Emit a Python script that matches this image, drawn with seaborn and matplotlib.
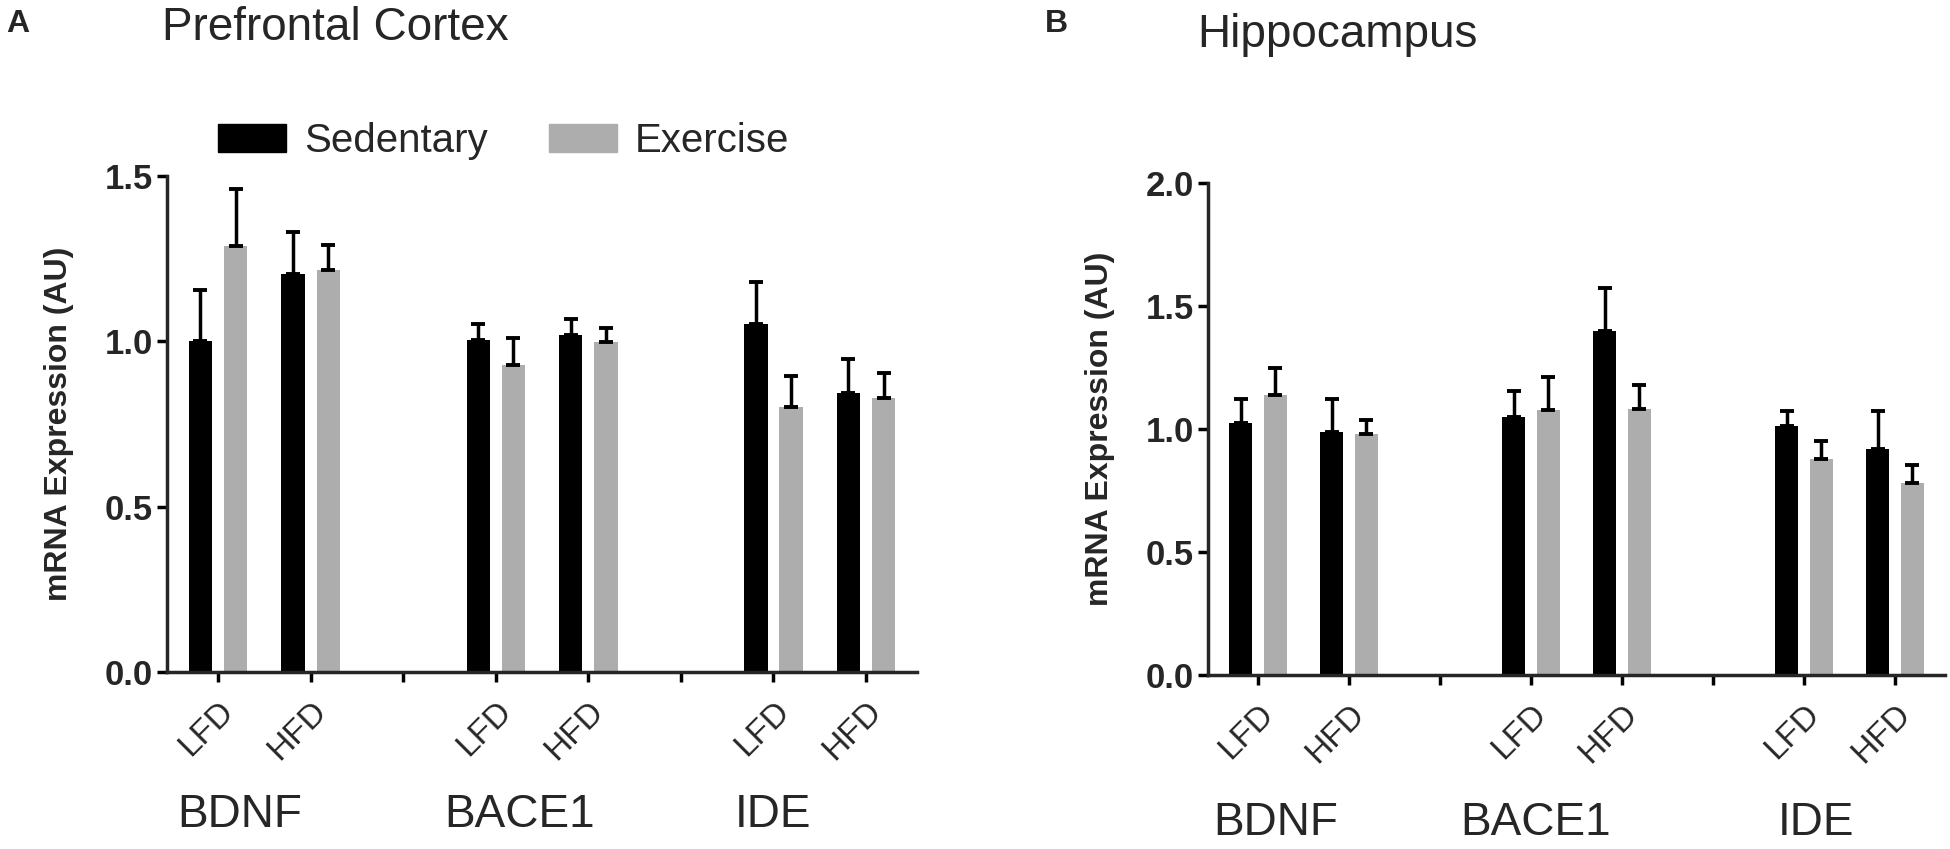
import pandas as pd
import matplotlib
matplotlib.use("Agg")
import matplotlib.pyplot as plt
import seaborn as sns

# values (mean and SEM, arbitrary units)
genes = ["BDNF", "BACE1", "IDE"]
diets = ["LFD", "HFD"]
conditions = ["Sedentary", "Exercise"]

pfc_sed_mean = [1.00, 1.205, 1.005, 1.02, 1.053, 0.843]
pfc_sed_sem = [0.155, 0.125, 0.047, 0.047, 0.127, 0.105]
pfc_ex_mean = [1.288, 1.217, 0.928, 0.999, 0.80, 0.83]
pfc_ex_sem = [0.173, 0.073, 0.082, 0.042, 0.096, 0.073]

hip_sed_mean = [1.024, 0.986, 1.049, 1.398, 1.011, 0.918]
hip_sed_sem = [0.096, 0.136, 0.105, 0.175, 0.061, 0.154]
hip_ex_mean = [1.14, 0.98, 1.076, 1.08, 0.878, 0.78]
hip_ex_sem = [0.109, 0.055, 0.134, 0.098, 0.072, 0.075]

tick_labels = ["LFD", "HFD", "", "LFD", "HFD", "", "LFD", "HFD"]

sns.set_style("ticks")
plt.rcParams["font.family"] = ["Liberation Sans", "DejaVu Sans"]

BLACK = "#000000"
GREY = "#adadad"
LW = 2.5


def make_frame(sed_mean, sed_sem, ex_mean, ex_sem):
    rows = []
    i = 0
    for g in genes:
        for d in diets:
            rows.append({"slot": f"{g} {d}", "condition": "Sedentary",
                         "mean": sed_mean[i], "sem": sed_sem[i]})
            rows.append({"slot": f"{g} {d}", "condition": "Exercise",
                         "mean": ex_mean[i], "sem": ex_sem[i]})
            i += 1
    return pd.DataFrame(rows)


order = ["BDNF LFD", "BDNF HFD", "gap1", "BACE1 LFD", "BACE1 HFD", "gap2",
         "IDE LFD", "IDE HFD"]


def draw_panel(ax, df, ymax, yticks, group_x, group_y):
    sns.barplot(data=df, x="slot", y="mean", hue="condition", order=order,
                hue_order=conditions, palette={"Sedentary": BLACK, "Exercise": GREY},
                width=0.76, gap=0.34, errorbar=None, linewidth=0, legend=False, ax=ax)
    # upward SEM bars on top of each bar
    for p in ax.patches:
        cx = p.get_x() + p.get_width() / 2
        slot = order[int(round(cx))]
        cond = "Sedentary" if cx < round(cx) else "Exercise"
        row = df[(df.slot == slot) & (df.condition == cond)].iloc[0]
        ax.errorbar(cx, row["mean"], yerr=[[0], [row["sem"]]], fmt="none",
                    ecolor="black", elinewidth=LW, capsize=5, capthick=LW + 0.3, zorder=3)
    ax.set_xlim(-0.55, 7.55)
    ax.set_ylim(0, ymax)
    ax.set_yticks(yticks)
    ax.set_yticklabels([f"{t:.1f}" for t in yticks], fontsize=25, fontweight="bold")
    ax.set_xticks(range(len(order)))
    ax.set_xticklabels(tick_labels, fontsize=24, rotation=45, ha="right",
                       rotation_mode="anchor")
    ax.set_xlabel("")
    ax.set_ylabel("mRNA Expression (AU)", fontsize=23, fontweight="bold", labelpad=22)
    sns.despine(ax=ax)
    for s in ["left", "bottom"]:
        ax.spines[s].set_linewidth(LW)
    ax.tick_params(axis="both", length=7, width=LW, color="black", pad=3)
    ax.tick_params(axis="x", pad=10)
    for gx, name in zip(group_x, genes):
        ax.text(gx, group_y, name, fontsize=33, ha="center", va="center",
                transform=ax.get_xaxis_transform())


fig = plt.figure(figsize=(19.5, 8.49), dpi=100)
ax1 = fig.add_axes([167 / 1950, 177 / 849, 750 / 1950, 496 / 849])
ax2 = fig.add_axes([1208 / 1950, 174 / 849, 737 / 1950, 492 / 849])

pfc = make_frame(pfc_sed_mean, pfc_sed_sem, pfc_ex_mean, pfc_ex_sem)
hip = make_frame(hip_sed_mean, hip_sed_sem, hip_ex_mean, hip_ex_sem)

draw_panel(ax1, pfc, 1.5, [0.0, 0.5, 1.0, 1.5], [0.24, 3.26, 6.0], -0.288)
draw_panel(ax2, hip, 2.0, [0.0, 0.5, 1.0, 1.5, 2.0], [0.19, 3.05, 6.13], -0.3)

# legend above the left panel
handles = [plt.Rectangle((0, 0), 1, 1, color=BLACK), plt.Rectangle((0, 0), 1, 1, color=GREY)]
fig.legend(handles, conditions, loc="center left", bbox_to_anchor=(218 / 1950, 1 - 141 / 849),
           ncol=2, frameon=False, fontsize=29, handlelength=1.7, handleheight=0.7,
           handletextpad=0.45, columnspacing=1.5, borderpad=0, borderaxespad=0)

fig.text(6 / 1950, 1 - 24 / 849, "A", fontsize=23, fontweight="bold", va="center", ha="left")
fig.text(1045 / 1950, 1 - 24 / 849, "B", fontsize=23, fontweight="bold", va="center", ha="left")
fig.text(162 / 1950, 1 - 28 / 849, "Prefrontal Cortex", fontsize=33, va="center", ha="left")
fig.text(1197 / 1950, 1 - 35 / 849, "Hippocampus", fontsize=33, va="center", ha="left")

fig.savefig("out.png", dpi=100, facecolor="white")
